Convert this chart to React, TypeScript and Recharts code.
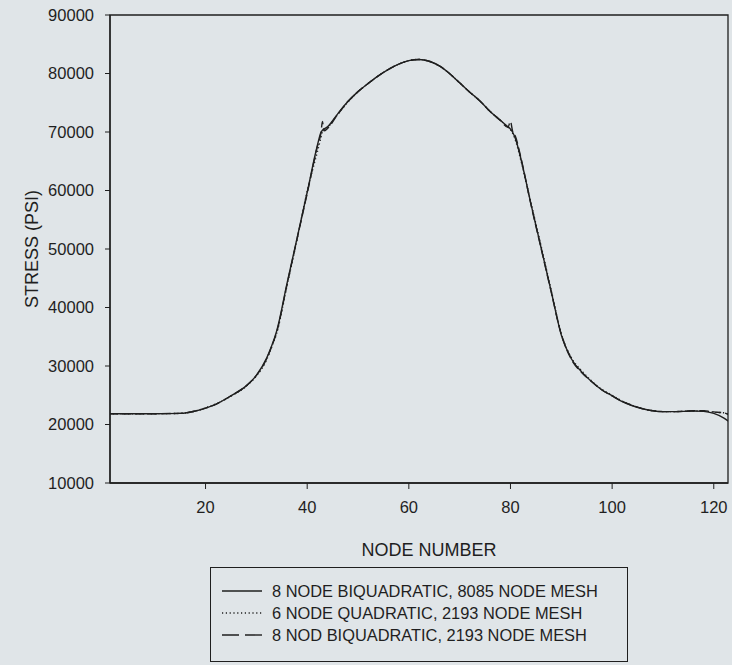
import { LineChart, Line, XAxis, YAxis, ReferenceArea } from "recharts";

// node numbers along the path, shared by all three meshes
const nodes = [
  1, 5, 10, 15, 18, 20, 22, 25, 28, 30,
  32, 33, 34, 36, 38, 40, 42, 42.7, 43, 43.3,
  44, 46, 48, 50, 52, 54, 56, 58, 60, 62,
  64, 66, 68, 70, 72, 74, 76, 78, 79.5, 80,
  80.4, 81, 82, 84, 86, 88, 90, 92, 94, 96,
  98, 100, 102, 104, 106, 108, 110, 112, 114, 116,
  118, 120, 122, 123,
];

const stressFine8085 = [
  21850, 21850, 21850, 21900, 22300, 22800, 23450, 24900, 26600, 28400,
  31300, 33400, 36000, 44000, 51800, 59700, 67700, 69900, 70300, 70500,
  70900, 73100, 75200, 76900, 78300, 79600, 80700, 81600, 82200, 82400,
  82100, 81300, 80000, 78400, 76800, 75300, 73500, 72000, 70900, 70500,
  70000, 68800, 65600, 57800, 50300, 42800, 35300, 31200, 29000, 27300,
  25900, 24900, 23900, 23200, 22700, 22350, 22200, 22200, 22250, 22300,
  22250, 21900, 21100, 20500,
];

const stressQuad2193 = [
  21850, 21850, 21850, 21900, 22300, 22850, 23500, 24850, 26550, 28300,
  31000, 33200, 35600, 43600, 51600, 59900, 66600, 69000, 70000, 70400,
  70800, 73000, 75100, 76900, 78300, 79600, 80700, 81600, 82200, 82400,
  82100, 81300, 80000, 78400, 76800, 75300, 73500, 72000, 70800, 70400,
  69800, 68500, 65300, 58000, 50600, 43000, 35500, 31400, 29200, 27400,
  26000, 25000, 24000, 23250, 22700, 22350, 22200, 22200, 22250, 22300,
  22300, 22100, 22000, 21800,
];

const stressBiquad2193 = [
  21850, 21850, 21850, 21900, 22300, 22800, 23450, 24900, 26600, 28400,
  31200, 33300, 35800, 43800, 51700, 59500, 67500, 69800, 71800, 70200,
  70600, 73000, 75200, 76900, 78300, 79600, 80700, 81600, 82200, 82400,
  82100, 81300, 80000, 78400, 76800, 75300, 73500, 72000, 70800, 71800,
  70200, 69200, 65800, 57700, 50200, 42700, 35400, 31100, 28900, 27300,
  25900, 24900, 23950, 23250, 22700, 22350, 22200, 22200, 22250, 22350,
  22350, 22150, 22000, 21600,
];

const xTicks = [20, 40, 60, 80, 100, 120];
const yTicks = [10000, 20000, 30000, 40000, 50000, 60000, 70000, 80000, 90000];

const seriesNames = [
  "8 NODE BIQUADRATIC, 8085 NODE MESH",
  "6 NODE QUADRATIC, 2193 NODE MESH",
  "8 NOD BIQUADRATIC, 2193 NODE MESH",
];

const INK = "#1f1f1f";
const BG = "#e0e5e8";
const FONT = '"Liberation Sans", Arial, sans-serif';

const series = [
  { key: "fine", name: seriesNames[0], dash: undefined as string | undefined, legendDash: undefined as string | undefined },
  { key: "quad", name: seriesNames[1], dash: "1.2 2.6", legendDash: "1.2 2.6" },
  { key: "biquad", name: seriesNames[2], dash: "9 4", legendDash: "17 6" },
];

const data = nodes.map((n, i) => ({
  node: n,
  fine: stressFine8085[i],
  quad: stressQuad2193[i],
  biquad: stressBiquad2193[i],
}));

function LegendBox() {
  return (
    <div
      style={{
        position: "absolute",
        left: 210,
        top: 567,
        width: 418,
        height: 95,
        border: `1.5px solid ${INK}`,
        boxSizing: "border-box",
        fontFamily: FONT,
        fontSize: 16.4,
        color: INK,
      }}
    >
      {series.map((s, i) => (
        <div
          key={s.key}
          style={{
            position: "absolute",
            left: 11,
            top: 13 + i * 22,
            height: 20,
            display: "flex",
            alignItems: "center",
            whiteSpace: "nowrap",
          }}
        >
          <svg width={40} height={10} style={{ marginRight: 10 }}>
            <line
              x1={0}
              y1={5}
              x2={40}
              y2={5}
              stroke={INK}
              strokeWidth={1.4}
              strokeDasharray={s.legendDash}
            />
          </svg>
          <span>{s.name}</span>
        </div>
      ))}
    </div>
  );
}

export default function App() {
  return (
    <div style={{ position: "relative", width: 732, height: 665, background: BG }}>
      <style>{`body{margin:0;background:${BG};}`}</style>
      <LineChart
        width={732}
        height={665}
        data={data}
        margin={{ top: 15, right: 4, left: 0, bottom: 152 }}
      >
        <XAxis
          dataKey="node"
          type="number"
          domain={[1.2, 122.8]}
          allowDataOverflow
          ticks={xTicks}
          height={30}
          tickSize={6}
          tickMargin={12}
          axisLine={{ stroke: INK, strokeWidth: 1.3 }}
          tickLine={{ stroke: INK }}
          tick={{ fill: INK, fontSize: 16.5, fontFamily: FONT }}
          label={{
            value: "NODE NUMBER",
            position: "bottom",
            offset: 30,
            dx: 10,
            fill: INK,
            fontSize: 18,
            fontFamily: FONT,
          }}
        />
        <YAxis
          type="number"
          domain={[10000, 90000]}
          ticks={yTicks}
          width={110}
          tickSize={5}
          tickMargin={11}
          axisLine={{ stroke: INK, strokeWidth: 1.3 }}
          tickLine={{ stroke: INK }}
          tick={{ fill: INK, fontSize: 16.5, fontFamily: FONT }}
          label={{
            value: "STRESS (PSI)",
            angle: -90,
            position: "insideLeft",
            offset: 32,
            fill: INK,
            fontSize: 18,
            fontFamily: FONT,
            style: { textAnchor: "middle" },
          }}
        />
        <ReferenceArea
          x1={1.2}
          x2={122.8}
          y1={10000}
          y2={90000}
          fill="none"
          stroke={INK}
          strokeWidth={1.3}
          ifOverflow="visible"
        />
        {series.map((s) => (
          <Line
            key={s.key}
            dataKey={s.key}
            name={s.name}
            type="monotone"
            stroke={INK}
            strokeWidth={1.4}
            strokeDasharray={s.dash}
            dot={false}
            activeDot={false}
            isAnimationActive={false}
          />
        ))}
      </LineChart>
      <LegendBox />
    </div>
  );
}
